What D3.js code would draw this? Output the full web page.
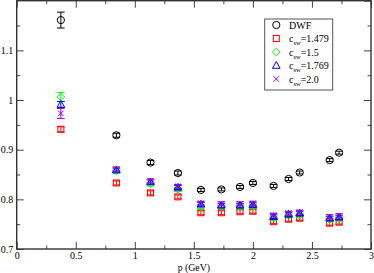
<!DOCTYPE html>
<html><head><meta charset="utf-8">
<script src="https://cdn.jsdelivr.net/npm/d3@7"></script>
<style>body{margin:0;background:#fff}svg{display:block}text{font-family:"Liberation Serif","Times New Roman",serif}</style>
</head><body><svg id="c" width="374" height="273"></svg>
<script>
const momenta = [0.374, 0.844, 1.133, 1.365, 1.56, 1.733, 1.891, 2.0, 2.175, 2.302, 2.396, 2.65, 2.73];
const dwf      = [1.161, 0.929, 0.874, 0.853, 0.819, 0.820, 0.825, 0.833, 0.827, 0.841, 0.854, 0.879, 0.894];
const dwfErr   = [0.016, 0.004, 0.004, 0.004, 0.003, 0.003, 0.003, 0.003, 0.003, 0.003, 0.003, 0.003, 0.003];
const csw1479  = [0.941, 0.833, 0.813, 0.805, 0.773, 0.773, 0.775, 0.776, 0.755, 0.760, 0.762, 0.752, 0.754];
const err1479  = [0.005, 0.004, 0.004, 0.004, 0.004, 0.004, 0.004, 0.004, 0.004, 0.004, 0.004, 0.004, 0.004];
const csw15    = [1.006, 0.857, 0.831, 0.820, 0.785, 0.785, 0.785, 0.786, 0.762, 0.767, 0.768, 0.759, 0.761];
const err15    = [0.009, 0.004, 0.004, 0.004, 0.004, 0.004, 0.004, 0.004, 0.004, 0.004, 0.004, 0.004, 0.004];
const csw1769  = [0.991, 0.859, 0.835, 0.824, 0.790, 0.788, 0.788, 0.789, 0.765, 0.770, 0.772, 0.762, 0.764];
const err1769  = [0.006, 0.004, 0.004, 0.004, 0.004, 0.004, 0.004, 0.004, 0.004, 0.004, 0.004, 0.004, 0.004];
const csw20    = [0.973, 0.861, 0.837, 0.826, 0.792, 0.791, 0.791, 0.792, 0.768, 0.772, 0.774, 0.765, 0.767];
const err20    = [0.010, 0.004, 0.004, 0.004, 0.004, 0.004, 0.004, 0.004, 0.004, 0.004, 0.004, 0.004, 0.004];
const xTicks = [0, 0.5, 1, 1.5, 2, 2.5, 3];
const yTicks = [0.7, 0.8, 0.9, 1, 1.1, 1.2];
const xLabel = "p (GeV)";

const series = [
  {name:"DWF", sub:null, vals:dwf, err:dwfErr, color:"#000000", sym:"circle"},
  {name:"c", sub:"sw", rest:"=1.479", vals:csw1479, err:err1479, color:"#ff0000", sym:"square"},
  {name:"c", sub:"sw", rest:"=1.5", vals:csw15, err:err15, color:"#00ff00", sym:"diamond"},
  {name:"c", sub:"sw", rest:"=1.769", vals:csw1769, err:err1769, color:"#0000ff", sym:"triangle"},
  {name:"c", sub:"sw", rest:"=2.0", vals:csw20, err:err20, color:"#9400d3", sym:"x"}
];

const L=16.7, R=371, T=0.7, B=249;
const svg = d3.select("#c");
const x = d3.scaleLinear().domain([0,3]).range([L,R]);
const y = d3.scaleLinear().domain([0.7,1.2]).range([B,T]);
const fmt = d => String(+d.toFixed(2));
const tickCol = "#444";

function drawAxis(axis, tr, labels){
  const g = svg.append("g").attr("transform", tr).call(axis);
  g.select(".domain").remove();
  g.selectAll(".tick line").attr("stroke", tickCol).attr("stroke-width",1);
  g.selectAll("text").attr("font-size","10px").attr("fill","#000");
  if(!labels) g.selectAll("text").remove();
  return g;
}
const xMinor = d3.range(0.25, 3, 0.5);
const yMinor = d3.range(0.75, 1.2, 0.1);
// bottom
const gb = drawAxis(d3.axisBottom(x).tickValues(xTicks).tickSize(-7).tickFormat(fmt), `translate(0,${B})`, true);
gb.selectAll("text").attr("dy","0.71em").attr("y",2.9);
drawAxis(d3.axisBottom(x).tickValues(xMinor).tickSize(-3.5).tickFormat(""), `translate(0,${B})`, false);
// top
drawAxis(d3.axisTop(x).tickValues(xTicks).tickSize(-7), `translate(0,${T})`, false);
drawAxis(d3.axisTop(x).tickValues(xMinor).tickSize(-3.5), `translate(0,${T})`, false);
// left
const gl = drawAxis(d3.axisLeft(y).tickValues(yTicks.filter(v=>v<1.15)).tickSize(-7).tickFormat(fmt), `translate(${L},0)`, true);
gl.selectAll("text").attr("x",-3.5);
drawAxis(d3.axisLeft(y).tickValues(yMinor).tickSize(-3.5).tickFormat(""), `translate(${L},0)`, false);
// right
drawAxis(d3.axisRight(y).tickValues(yTicks).tickSize(-7), `translate(${R},0)`, false);
drawAxis(d3.axisRight(y).tickValues(yMinor).tickSize(-3.5), `translate(${R},0)`, false);

// frame
svg.append("rect").attr("x",L).attr("y",T).attr("width",R-L).attr("height",B-T)
  .attr("fill","none").attr("stroke","#333").attr("stroke-width",1.4);

// x label
svg.append("text").attr("x",(L+R)/2).attr("y",270.6).attr("text-anchor","middle")
  .attr("font-size","9.8px").text(xLabel);

function symbol(g, type, cx, cy, color){
  if(type==="circle"){
    g.append("circle").attr("cx",cx).attr("cy",cy).attr("r",3.6).attr("fill","none").attr("stroke",color).attr("stroke-width",1);
  } else if(type==="square"){
    g.append("rect").attr("x",cx-3).attr("y",cy-3).attr("width",6).attr("height",6).attr("fill","none").attr("stroke",color).attr("stroke-width",1);
  } else if(type==="diamond"){
    g.append("path").attr("d",`M${cx},${cy-3.8}L${cx+3.8},${cy}L${cx},${cy+3.8}L${cx-3.8},${cy}Z`).attr("fill","none").attr("stroke",color).attr("stroke-width",1);
  } else if(type==="triangle"){
    g.append("path").attr("d",`M${cx},${cy-4}L${cx+3.8},${cy+2.8}L${cx-3.8},${cy+2.8}Z`).attr("fill","none").attr("stroke",color).attr("stroke-width",1);
  } else if(type==="x"){
    g.append("path").attr("d",`M${cx-2.8},${cy-2.8}L${cx+2.8},${cy+2.8}M${cx+2.8},${cy-2.8}L${cx-2.8},${cy+2.8}`).attr("fill","none").attr("stroke",color).attr("stroke-width",1);
  }
}

// draw series
series.forEach(s=>{
  const g = svg.append("g");
  s.vals.forEach((v,i)=>{
    const cx = x(momenta[i]), y1 = y(v - s.err[i]), y2 = y(v + s.err[i]);
    g.append("path").attr("d",`M${cx},${y1}V${y2}M${cx-3.8},${y1}H${cx+3.8}M${cx-3.8},${y2}H${cx+3.8}`)
      .attr("stroke",s.color).attr("stroke-width",1).attr("fill","none");
    symbol(g, s.sym, cx, y(v), s.color);
  });
});

// legend
const lg = svg.append("g");
lg.append("rect").attr("x",264.7).attr("y",19).attr("width",68).attr("height",71)
  .attr("fill","#fff").attr("stroke","#555").attr("stroke-width",1);
const legY = [25, 38.5, 52, 65.5, 79];
series.forEach((s,i)=>{
  symbol(lg, s.sym, 276.3, legY[i], s.color);
  const t = lg.append("text").attr("x",289).attr("y",legY[i]+3.8).attr("font-size","10px").attr("fill","#000");
  t.append("tspan").text(s.name);
  if(s.sub){
    t.append("tspan").attr("font-size","6.5px").attr("dy",3).text(s.sub);
    t.append("tspan").attr("dy",-3).text(s.rest);
  }
});
</script></body></html>
